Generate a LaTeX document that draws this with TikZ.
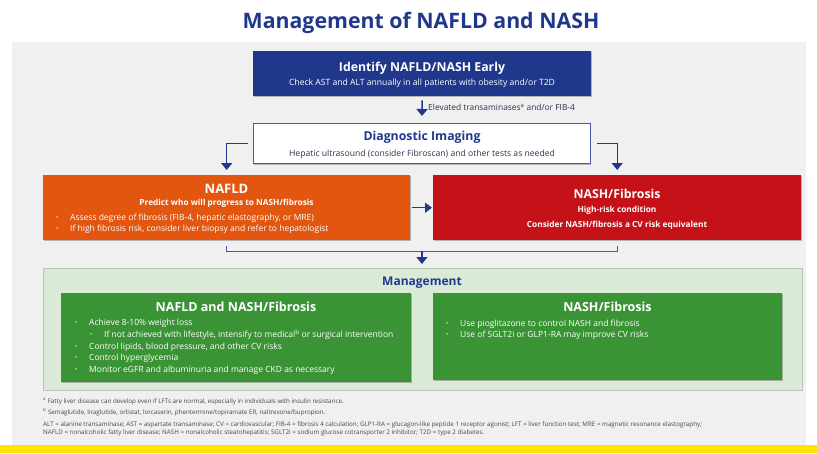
\documentclass[tikz,border=0pt]{standalone}
\usepackage{fontspec}
\setmainfont{Open Sans}
\usetikzlibrary{arrows.meta,shadows,calc}
\definecolor{navy}{RGB}{31,56,140}
\definecolor{boxblue}{RGB}{70,90,170}
\definecolor{darktxt}{RGB}{45,50,80}
\definecolor{bggrey}{RGB}{240,240,240}
\definecolor{orangebox}{RGB}{226,86,15}
\definecolor{redbox}{RGB}{196,18,24}
\definecolor{greenbox}{RGB}{58,148,53}
\definecolor{mgmtgreen}{RGB}{218,234,214}
\definecolor{yellowbar}{RGB}{255,228,0}
\definecolor{foottxt}{RGB}{70,70,80}
\newcommand\myitem[1]{\makebox[14pt][l]{\raisebox{0.6pt}{\scalebox{0.7}{\textbullet}}}#1}
\begin{document}
\begin{tikzpicture}[x=1pt,y=-1pt,
  panelbox/.style={rectangle, inner sep=0pt, anchor=north west,
    drop shadow={shadow xshift=1pt,shadow yshift=-1.2pt,opacity=0.25,fill=black}},
  ttl/.style={font=\bfseries\fontsize{12.3}{14}\selectfont, inner sep=0pt, anchor=base},
  sub/.style={font=\fontsize{8.6}{10}\selectfont, inner sep=0pt, anchor=base},
  subb/.style={font=\bfseries\fontsize{8.3}{10}\selectfont, inner sep=0pt, anchor=base},
  bul/.style={font=\fontsize{8.5}{10}\selectfont, inner sep=0pt, anchor=base west, text=white},
  foot/.style={font=\fontsize{6.25}{7}\selectfont, inner sep=0pt, anchor=base west, text=foottxt},
  conn/.style={draw=navy, line width=1.4pt},
  tip/.style={-{Triangle[width=11pt,length=7pt]}},
  bracket/.style={draw=boxblue, line width=1pt}]
\useasboundingbox (0,0) rectangle (817,453);
\fill[white] (0,0) rectangle (817,453);
\fill[bggrey] (12,42) rectangle (806,445);
\fill[yellowbar] (0,445) rectangle (817,453);

\node[font=\bfseries\fontsize{21.3}{24}\selectfont, text=navy, inner sep=0pt, anchor=base] (title) at (421,28) {Management of NAFLD and NASH};

% Identify
\node[panelbox, fill=navy, minimum width=338pt, minimum height=45pt] (identify) at (253,51) {};
\node[ttl, text=white] (identifyT) at (422,71) {Identify NAFLD/NASH Early};
\node[sub, text=white] (identifyS) at (422,85) {Check AST and ALT annually in all patients with obesity and/or T2D};

% Diagnostic
\node[panelbox, fill=white, draw=boxblue, line width=0.8pt, minimum width=337pt, minimum height=40pt] (diag) at (253,123) {};
\node[ttl, text=navy] (diagT) at (422,140) {Diagnostic Imaging};
\node[sub, text=darktxt] (diagS) at (422,156) {Hepatic ultrasound (consider Fibroscan) and other tests as needed};

\node[sub, anchor=base west, text=darktxt, font=\fontsize{8.4}{10}\selectfont] (elev) at (428,110) {Elevated transaminases\textsuperscript{a} and/or FIB-4};

% NAFLD
\node[panelbox, fill=orangebox, minimum width=367pt, minimum height=65pt] (nafld) at (43,175) {};
\node[ttl, text=white, font=\bfseries\fontsize{13}{15}\selectfont] (nafldT) at (226.5,193) {NAFLD};
\node[subb, text=white] (nafldS) at (226.5,205) {Predict who will progress to NASH/fibrosis};
\node[bul] (nafldB1) at (56,220) {\myitem{Assess degree of fibrosis (FIB-4, hepatic elastography, or MRE)}};
\node[bul] (nafldB2) at (56,231) {\myitem{If high fibrosis risk, consider liver biopsy and refer to hepatologist}};

% NASH
\node[panelbox, fill=redbox, minimum width=368pt, minimum height=65pt] (nash) at (433,175) {};
\node[ttl, text=white] (nashT) at (617,198) {NASH/Fibrosis};
\node[subb, text=white] (nashS1) at (617,212) {High-risk condition};
\node[subb, text=white] (nashS2) at (617,227) {Consider NASH/fibrosis a CV risk equivalent};

% Management
\node[panelbox, fill=mgmtgreen, draw=mgmtgreen!85!black, line width=0.3pt, minimum width=759pt, minimum height=122pt] (mgmt) at (43,268) {};
\node[ttl, text=navy, font=\bfseries\fontsize{12}{14}\selectfont] (mgmtT) at (422,285) {Management};

\node[panelbox, fill=greenbox, minimum width=350pt, minimum height=89pt] (gleft) at (61,293) {};
\node[ttl, text=white, font=\bfseries\fontsize{12.5}{14}\selectfont] (gleftT) at (236,311) {NAFLD and NASH/Fibrosis};
\node[bul] (gl1) at (75,325) {\myitem{Achieve 8-10\% weight loss}};
\node[bul] (gl2) at (90,337) {\myitem{If not achieved with lifestyle, intensify to medical\textsuperscript{b} or surgical intervention}};
\node[bul] (gl3) at (75,349) {\myitem{Control lipids, blood pressure, and other CV risks}};
\node[bul] (gl4) at (75,360) {\myitem{Control hyperglycemia}};
\node[bul] (gl5) at (75,372) {\myitem{Monitor eGFR and albuminuria and manage CKD as necessary}};

\node[panelbox, fill=greenbox, minimum width=349pt, minimum height=87pt] (gright) at (433,293) {};
\node[ttl, text=white, font=\bfseries\fontsize{12.5}{14}\selectfont] (grightT) at (607.5,311) {NASH/Fibrosis};
\node[bul] (gr1) at (446,326) {\myitem{Use pioglitazone to control NASH and fibrosis}};
\node[bul] (gr2) at (446,337) {\myitem{Use of SGLT2i or GLP1-RA may improve CV risks}};

% Footnotes
\node[foot] (f1) at (43,403) {\textsuperscript{a} Fatty liver disease can develop even if LFTs are normal, especially in individuals with insulin resistance.};
\node[foot] (f2) at (43,414) {\textsuperscript{b} Semaglutide, liraglutide, orlistat, lorcaserin, phentermine/topiramate ER, naltrexone/bupropion.};
\node[foot] (f3) at (43,426) {ALT = alanine transaminase; AST = aspartate transaminase; CV = cardiovascular; FIB-4 = fibrosis 4 calculation; GLP1-RA = glucagon-like peptide 1 receptor agonist; LFT = liver function test; MRE = magnetic resonance elastography;};
\node[foot] (f4) at (43,434) {NAFLD = nonalcoholic fatty liver disease; NASH = nonalcoholic steatohepatitis; SGLT2i = sodium glucose cotransporter 2 inhibitor; T2D = type 2 diabetes.};

% Connectors
\draw[conn, tip, shorten <=4pt, shorten >=7pt] (identify.south) -- (diag.north);
\draw[conn, tip, shorten <=5pt, shorten >=5pt] (diag.west) -| (nafld.north);
\draw[conn, tip, shorten <=6pt, shorten >=5pt] (diag.east) -| (nash.north);
\draw[conn, -{Triangle[width=10pt,length=7pt]}, shorten <=2pt, shorten >=1pt] (nafld.east) -- (nash.west);
\coordinate (bl) at ($(nafld.south)+(0,6)$);
\coordinate (blb) at ($(nafld.south)+(0,11)$);
\coordinate (br) at ($(nash.south)+(0,6)$);
\coordinate (bm) at ($(nafld.south)!0.5!(nash.south)+(0,11)$);
\draw[bracket] (bl) -- (blb) -| (br);
\draw[conn, tip, shorten >=4pt] (bm) -- (bm |- mgmt.north);
\end{tikzpicture}
\end{document}
